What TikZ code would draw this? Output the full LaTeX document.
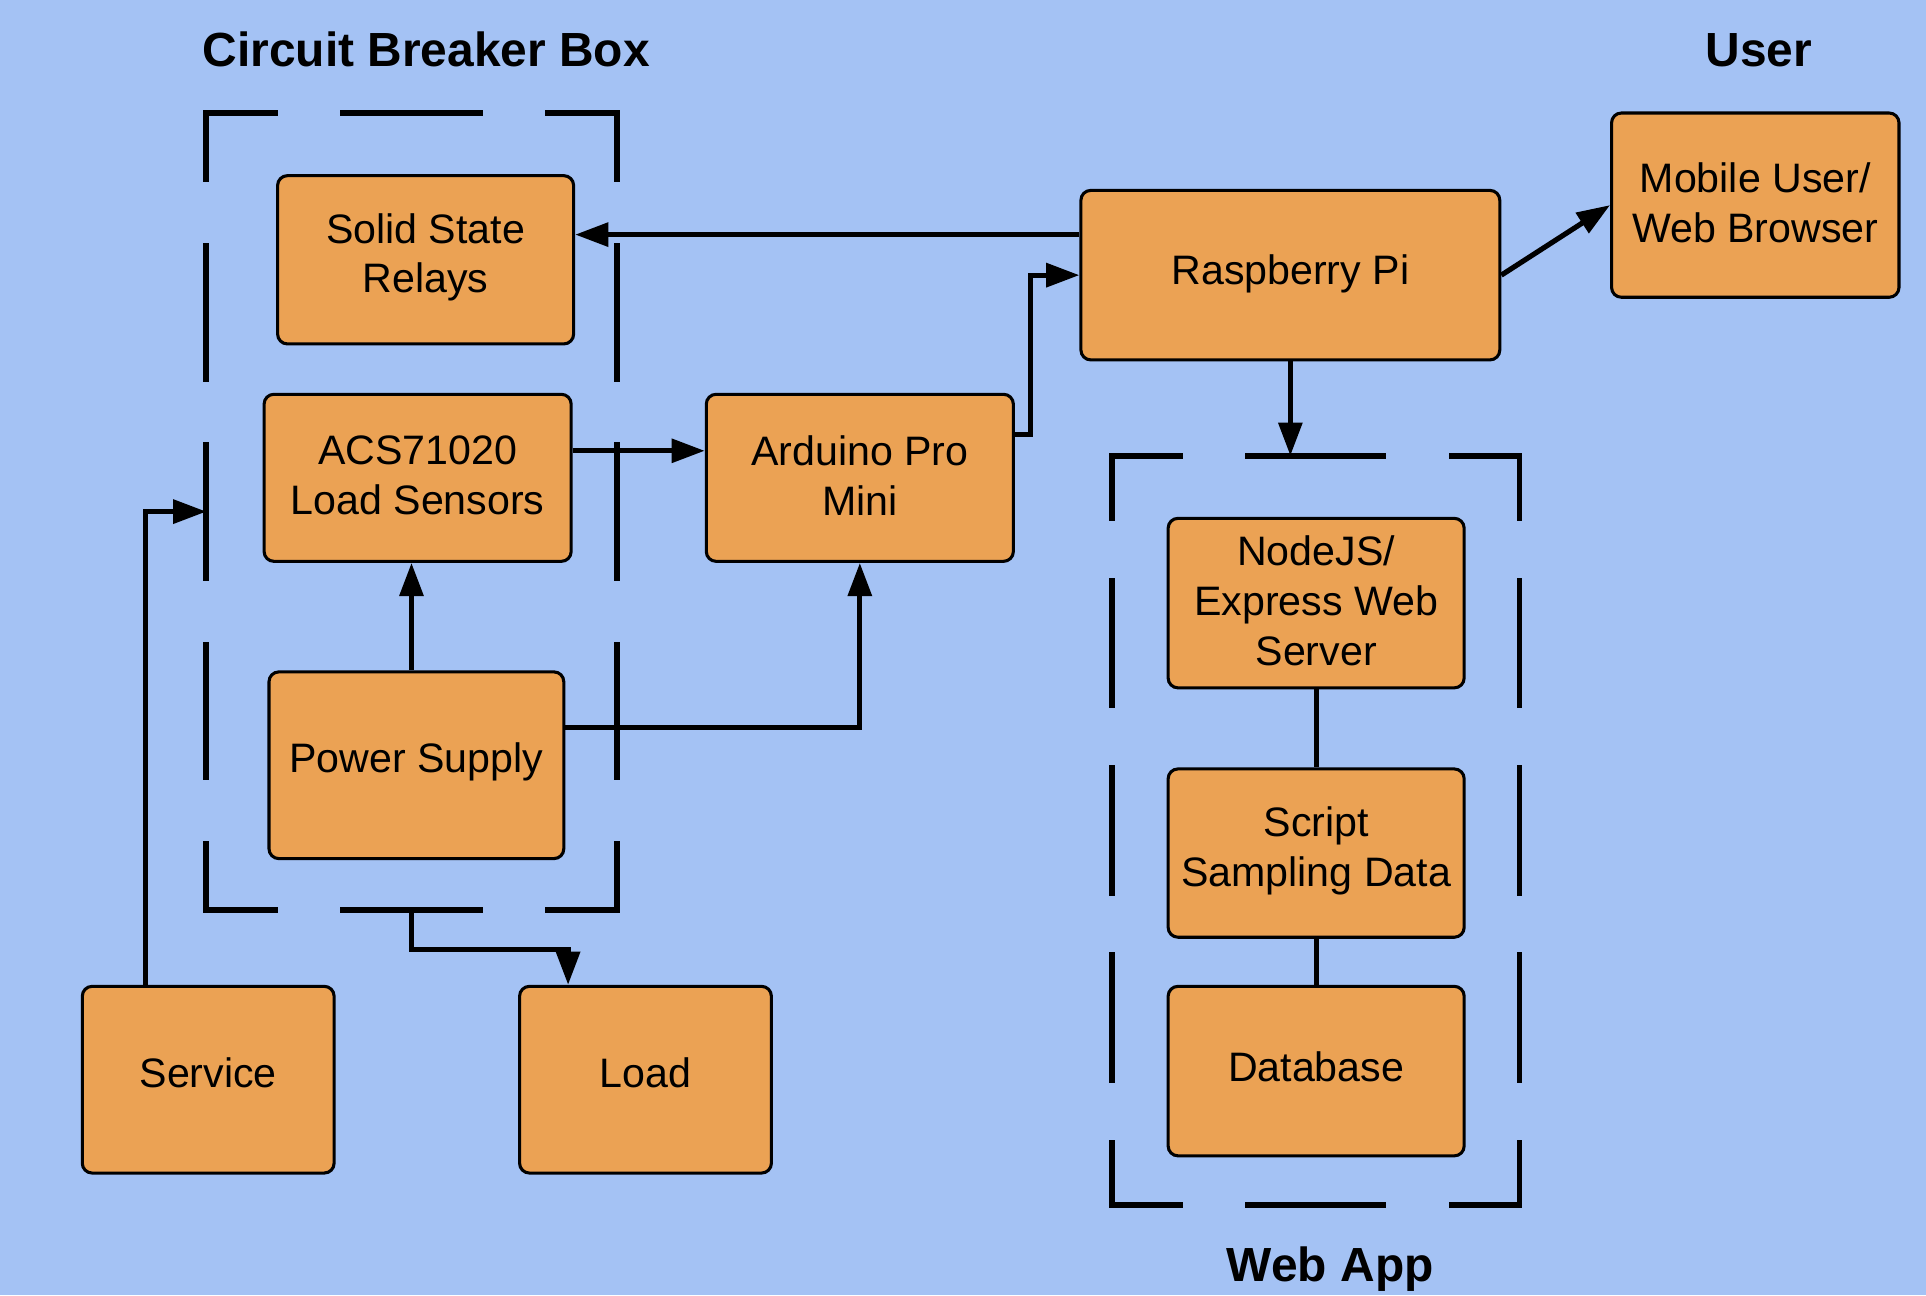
\documentclass[tikz,border=0pt]{standalone}
\usepackage{fontspec}
\setmainfont{Liberation Sans}
\usetikzlibrary{arrows.meta}
\definecolor{bgblue}{HTML}{A4C2F4}
\definecolor{boxorange}{HTML}{EBA254}
\begin{document}
\begin{tikzpicture}[x=1pt,y=-1pt,
  blk/.style={draw=black, line width=2.5pt, fill=boxorange, rounded corners=8pt, inner sep=0pt, align=center, font=\fontsize{33.5}{40.5}\selectfont},
  sz/.style 2 args={minimum width=#1pt, minimum height=#2pt},
  area/.style={inner sep=0pt, outer sep=0pt},
  arr/.style={line width=4.2pt, -{Triangle[length=27pt,width=19pt]}},
  ln/.style={line width=4.2pt},
  dsh/.style={line width=4.8pt, line cap=rect},
  ttl/.style={font=\fontsize{39}{46}\selectfont\bfseries, anchor=base}]
\fill[bgblue] (0,0) rectangle (1568,1054.3);
\useasboundingbox (0,0) rectangle (1568,1054.3);

% titles
\node[ttl] (tcb) at (347,54) {Circuit Breaker Box};
\node[ttl] (tuser) at (1432,54) {User};
\node[ttl] (tweb) at (1083,1043) {Web App};

% dashed group areas
\node[area, sz={334}{649}] (cbb) at (335,416.5) {};
\node[area, sz={332}{610}] (web) at (1071,676) {};
\draw[dsh, dash pattern=on 111.33pt off 55.67pt, dash phase=55.67pt] (168,92) -- (502,92);
\draw[dsh, dash pattern=on 111.33pt off 55.67pt, dash phase=55.67pt] (168,741) -- (502,741);
\draw[dsh, dash pattern=on 108.17pt off 54.08pt, dash phase=54.08pt] (168,92) -- (168,741);
\draw[dsh, dash pattern=on 108.17pt off 54.08pt, dash phase=54.08pt] (502,92) -- (502,741);
\draw[dsh, dash pattern=on 110.67pt off 55.33pt, dash phase=55.33pt] (905,371) -- (1237,371);
\draw[dsh, dash pattern=on 110.67pt off 55.33pt, dash phase=55.33pt] (905,981) -- (1237,981);
\draw[dsh, dash pattern=on 101.67pt off 50.83pt, dash phase=50.83pt] (905,371) -- (905,981);
\draw[dsh, dash pattern=on 101.67pt off 50.83pt, dash phase=50.83pt] (1237,371) -- (1237,981);

% boxes
\node[blk, sz={241}{137}, text depth=11pt] (ssr) at (346.5,211.5) {Solid State\\Relays};
\node[blk, sz={250}{136}, text depth=4pt] (acs) at (340,389) {ACS71020\\Load Sensors};
\node[blk, sz={240}{152}, text depth=13pt] (ps) at (339,623) {Power Supply};
\node[blk, sz={250}{136}, text depth=4pt] (ard) at (700,389) {Arduino Pro\\Mini};
\node[blk, sz={341}{138}, text depth=9pt] (rpi) at (1050.5,224) {Raspberry Pi};
\node[blk, sz={234}{150}, text depth=4pt] (mob) at (1429,167) {Mobile User/\\Web Browser};
\node[blk, sz={241}{138}, text depth=4pt] (njs) at (1071.5,491) {NodeJS/\\Express Web\\Server};
\node[blk, sz={241}{137}, text depth=11pt] (scr) at (1071.5,694.5) {Script\\Sampling Data};
\node[blk, sz={241}{138}, text depth=8pt] (db) at (1071.5,872) {Database};
\node[blk, sz={205}{152}, text depth=12pt] (svc) at (169.5,879) {Service};
\node[blk, sz={205}{152}, text depth=12pt] (load) at (525.5,879) {Load};

% connectors
\coordinate (r1) at ([yshift=33pt]rpi.west);
\draw[arr] (r1) -- (r1 -| ssr.east);
\coordinate (a1) at ([yshift=22pt]acs.east);
\draw[arr] (a1) -- (a1 -| ard.west);
\coordinate (d1) at ([yshift=35pt]ard.east);
\draw[arr] (d1) -- ++(13,0) |- (rpi.west);
\coordinate (p1) at ([xshift=-4pt]ps.north);
\draw[arr] (p1) -- (p1 |- acs.south);
\coordinate (p2) at ([yshift=31pt]ps.east);
\draw[arr] (p2) -| (ard.south);
\coordinate (s1) at ([xshift=-51pt]svc.north);
\draw[arr] (s1) |- (cbb.west);
\coordinate (l1) at ([xshift=-63pt]load.north);
\draw[arr] (cbb.south) -- ++(0,32) -| (l1);
\draw[arr] (rpi.south) -- (rpi.south |- web.north);
\draw[arr] (rpi.east) -- (mob.west);
\draw[ln] (njs.south) -- (scr.north);
\draw[ln] (scr.south) -- (db.north);
\end{tikzpicture}
\end{document}
